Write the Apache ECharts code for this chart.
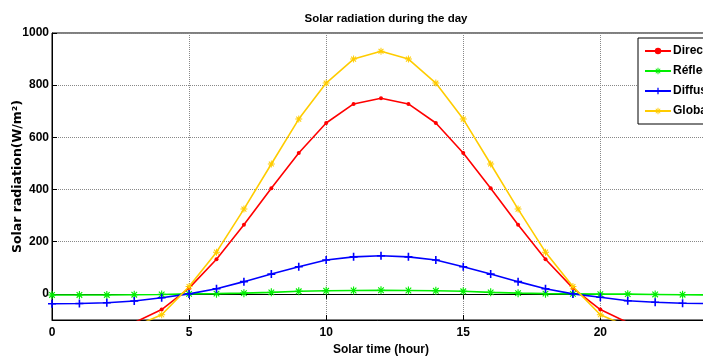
<!DOCTYPE html>
<html><head><meta charset="utf-8">
<script src="https://cdn.jsdelivr.net/npm/echarts@6/dist/echarts.min.js"></script>
<style>html,body{margin:0;padding:0;background:#fff;}#c{width:703px;height:360px;}</style>
</head><body><div id="c"></div>
<script>
const hours = [0,1,2,3,4,5,6,7,8,9,10,11,12,13,14,15,16,17,18,19,20,21,22,23,24];
const direct = [-150,-150,-140,-110,-60,22,133,265,405,540,655,728,750,728,655,540,405,265,133,22,-60,-110,-140,-150,-150];
const reflected = [-4,-4,-4,-3,-2,0,1,3,6,10,12,13,14,13,12,10,6,3,1,0,-1,-1,-2,-3,-4];
const diffuse = [-38,-37,-34,-27,-15,0,20,47,76,104,130,142,146,142,130,104,76,47,20,0,-13,-26,-32,-36,-37];
const globalR = [-160,-160,-150,-125,-80,28,160,325,498,670,808,900,930,900,808,670,498,325,160,28,-80,-125,-150,-160,-160];
const yTicks = [0,200,400,600,800,1000];
const xTicks = [0,5,10,15,20];
const seriesNames = ['Direct','Réflected','Diffuse','Global'];

const FN = '"Liberation Sans Narrow","Arial Narrow","Liberation Sans",Arial,sans-serif';
const plusSym = 'path://M4,0H6V10H4Z M0,4H10V6H0Z';
const starSym = 'path://M4.3,0H5.7V10H4.3Z M0,4.3H10V5.7H0Z M1,2L2,1L9,8L8,9Z M8,1L9,2L2,9L1,8Z';
function pairs(v){ return hours.map((h,i)=>[h,v[i]]); }
function mk(name, data, color, symbol, size){
  return {name, type:'line', data:pairs(data), symbol, symbolSize:size, showSymbol:true,
    lineStyle:{color, width:1.6}, itemStyle:{color}, animation:false, clip:true};
}
const chart = echarts.init(document.getElementById('c'), null, {renderer:'canvas'});
chart.setOption({
  animation:false,
  backgroundColor:'#fff',
  title:{text:'Solar radiation during the day', left:381, top:8, textAlign:'center',
    textStyle:{fontFamily:FN, fontSize:11.5, fontWeight:'bold', color:'#000'}},
  legend:{orient:'vertical', left:638, top:38, data:seriesNames,
    backgroundColor:'#fff', borderColor:'#000', borderWidth:1, padding:[7,20,7,6],
    itemWidth:26, itemHeight:8, itemGap:8,
    textStyle:{fontFamily:FN, fontSize:12, fontWeight:'bold', color:'#000', padding:[0,0,0,-3]}},
  grid:{left:52, top:33, width:658, height:287, show:true, borderColor:'#000', borderWidth:1,
    backgroundColor:'#fff', containLabel:false, outerBoundsMode:'none'},
  xAxis:[{type:'value', min:0, max:24, interval:5, position:'bottom',
    name:'Solar time (hour)', nameLocation:'middle', nameGap:24, nameMoveOverlap:false,
    nameTextStyle:{fontFamily:FN, fontSize:12, fontWeight:'bold', color:'#000'},
    axisLine:{show:true, onZero:false, lineStyle:{color:'#000', width:1}},
    axisTick:{show:true, inside:true, length:5, lineStyle:{color:'#000'}},
    axisLabel:{fontFamily:FN, fontSize:12, fontWeight:'bold', color:'#000', margin:7, showMaxLabel:false,
      formatter:(v)=>String(v)},
    splitLine:{show:true, lineStyle:{color:'#888', type:'dotted', width:1}}},
   {type:'value', min:0, max:24, interval:5, position:'top',
    axisLine:{show:true, lineStyle:{color:'#000'}},
    axisTick:{show:true, inside:true, length:5, lineStyle:{color:'#000'}},
    axisLabel:{show:false}, splitLine:{show:false}}],
  yAxis:{type:'value', min:-100, max:1000,
    name:'Solar radiation(W/m²)', nameLocation:'middle', nameGap:28, nameRotate:90, nameMoveOverlap:false,
    nameTextStyle:{fontFamily:'"DejaVu Sans","Liberation Sans",Arial,sans-serif', fontSize:12.5, fontWeight:'bold', color:'#000'},
    axisLine:{show:true, onZero:false, lineStyle:{color:'#000', width:1}},
    axisTick:{show:true, inside:true, length:5, customValues:yTicks, lineStyle:{color:'#000'}},
    axisLabel:{fontFamily:FN, fontSize:12, fontWeight:'bold', color:'#000', margin:3, customValues:yTicks,
      formatter:(v)=>String(v)},
    splitLine:{show:true, lineStyle:{color:'#888', type:'dotted', width:1}}},
  series:[
    mk(seriesNames[0], direct, '#ff0000', 'circle', 4),
    mk(seriesNames[1], reflected, '#00ee00', starSym, 8),
    mk(seriesNames[2], diffuse, '#0000ff', plusSym, 8),
    mk(seriesNames[3], globalR, '#ffcc00', starSym, 7)
  ]
});
</script></body></html>
